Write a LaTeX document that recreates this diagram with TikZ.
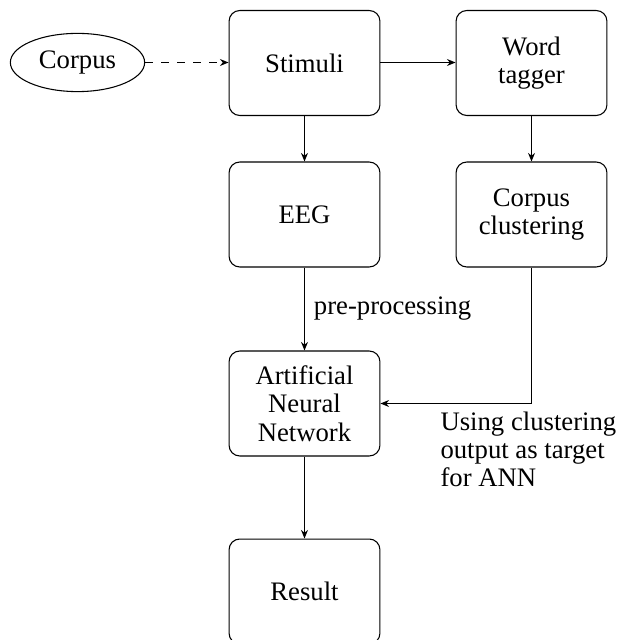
\documentclass[tikz,border=0pt]{standalone}
\usepackage{fontspec}
\setmainfont{Liberation Serif}
\usetikzlibrary{shapes.geometric,arrows.meta}
\begin{document}
\begin{tikzpicture}[x=0.3745pt,y=-0.3745pt,
  font=\fontsize{10}{10.6}\selectfont,
  box/.style={draw,rounded corners=4pt,minimum width=56.5pt,minimum height=39.3pt,align=center,inner sep=2pt},
  arr/.style={-{Stealth[length=3.2pt,width=2.6pt]}},
]
\useasboundingbox (0,0) rectangle (617,640);
\node[draw,ellipse] (corpus) at (77.5,62.5) {Corpus};
\node[box] (stim) at (304.5,63) {Stimuli};
\node[box] (wt) at (531.5,63) {Word\\tagger};
\node[box] (eeg) at (304.5,214.5) {EEG};
\node[box] (cc) at (531.5,214.5) {Corpus\\clustering};
\node[box] (ann) at (304.5,403.5) {Artificial\\Neural\\Network};
\node[box] (res) at (304.5,591.5) {Result};
\draw[arr,dashed] (corpus.east) -- (corpus.east -| stim.west);
\draw[arr] (stim.east |- corpus.east) -- (wt.west |- corpus.east);
\draw[arr] (stim) -- (eeg);
\draw[arr] (wt) -- (cc);
\draw[arr] (eeg) -- node[right] (pp) {pre-processing} (ann);
\draw[arr] (cc.south) |- (ann.east);
\draw[arr] (ann) -- (res);
\node[anchor=north west,inner sep=0pt,align=left] (lbl) at (440,411) {Using clustering\\output as target\\for ANN};
\end{tikzpicture}
\end{document}
